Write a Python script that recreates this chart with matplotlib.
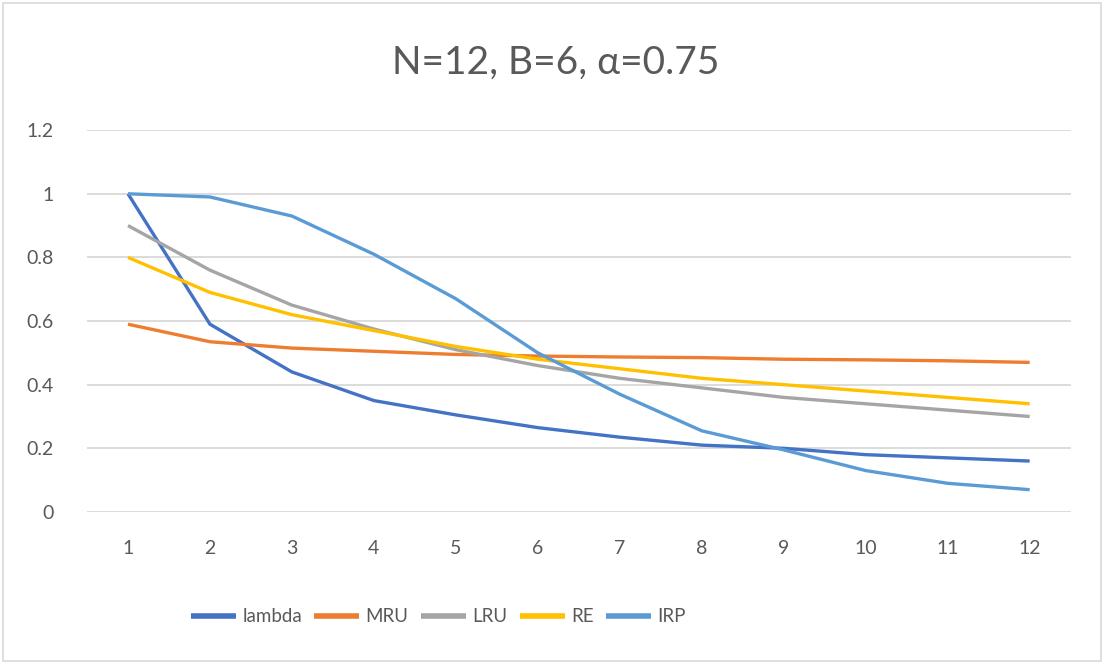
import matplotlib
matplotlib.use('Agg')
import matplotlib.pyplot as plt

plt.rcParams['font.family'] = ['Lato', 'DejaVu Sans']

x = list(range(1, 13))
lam = [1.0, 0.59, 0.44, 0.35, 0.305, 0.265, 0.235, 0.21, 0.20, 0.18, 0.17, 0.16]
mru = [0.59, 0.535, 0.515, 0.505, 0.495, 0.49, 0.487, 0.485, 0.48, 0.478, 0.475, 0.47]
lru = [0.90, 0.76, 0.65, 0.575, 0.51, 0.46, 0.42, 0.39, 0.36, 0.34, 0.32, 0.30]
re = [0.80, 0.69, 0.62, 0.57, 0.52, 0.48, 0.45, 0.42, 0.40, 0.38, 0.36, 0.34]
irp = [1.0, 0.99, 0.93, 0.81, 0.67, 0.50, 0.37, 0.255, 0.195, 0.13, 0.09, 0.07]

names = ['lambda', 'MRU', 'LRU', 'RE', 'IRP']
colors = ['#4472C4', '#ED7D31', '#A5A5A5', '#FFC000', '#5B9BD5']
series = [lam, mru, lru, re, irp]

fig = plt.figure(figsize=(11.04, 6.64), dpi=100)
ax = fig.add_axes([0.0788, 0.229, 0.891, 0.575])

for ys, c, n in zip(series, colors, names):
    ax.plot(x, ys, color=c, lw=2.4, label=n, solid_capstyle='butt')

ax.set_xlim(0.5, 12.5)
ax.set_ylim(0, 1.2)
ax.set_xticks(x)
ax.set_yticks([0, 0.2, 0.4, 0.6, 0.8, 1.0, 1.2])
ax.set_yticklabels(['0', '0.2', '0.4', '0.6', '0.8', '1', '1.2'])
ax.grid(axis='y', color='#D9D9D9', lw=1.3)
ax.set_axisbelow(True)
for s in ax.spines.values():
    s.set_visible(False)
ax.tick_params(length=0, labelsize=14, labelcolor='#595959')
ax.tick_params(axis='x', pad=20)
ax.tick_params(axis='y', pad=24)

fig.text(0.503, 0.905, 'N=12, B=6, \u03b1=0.75', ha='center', va='center',
         fontsize=28, color='#595959')

leg = fig.legend(loc='center', bbox_to_anchor=(0.397, 0.071), ncol=5, frameon=False,
                 fontsize=13.5, handlelength=2.4, columnspacing=0.65, handletextpad=0.35)
for t in leg.get_texts():
    t.set_color('#595959')
for h in leg.get_lines():
    h.set_linewidth(4)

fig.patches.append(plt.Rectangle((0.003, 0.004), 0.994, 0.992, transform=fig.transFigure,
                                 fill=False, edgecolor='#D9D9D9', lw=1.2))

fig.savefig('out.png', dpi=100)
